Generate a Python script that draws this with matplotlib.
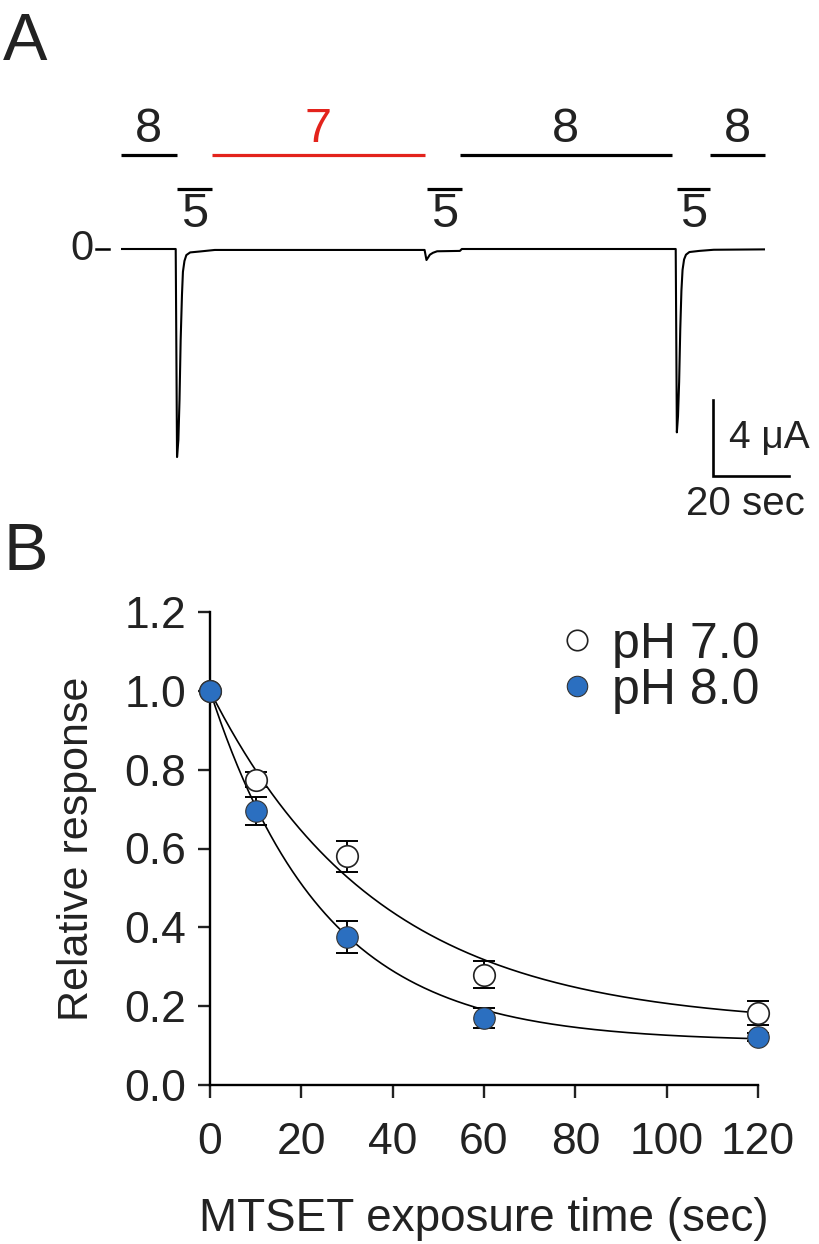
import matplotlib
matplotlib.use("Agg")
import matplotlib.pyplot as plt
import numpy as np

plt.rcParams['font.family'] = ['Liberation Sans', 'DejaVu Sans']

# panel A: current trace (sec, uA)
trace_t = [0, 14.4, 14.75, 15.1, 15.4, 15.7, 16.05, 16.3, 16.7, 17.2, 18.2, 20.8, 24.7,
           79.9, 80.4, 81.3, 82.1, 83.2, 89.2, 89.7,
           146.0, 146.3, 146.6, 146.9, 147.2, 147.5, 147.8, 148.2, 148.7, 149.6, 152.2, 156.0, 169.5]
trace_i = [0, 0, -10.95, -10.05, -7.95, -4.8, -2.4, -1.2, -0.63, -0.32, -0.18, -0.13, -0.05,
           -0.05, -0.58, -0.3, -0.2, -0.12, -0.1, 0.0,
           0.0, -9.65, -8.8, -7.0, -4.2, -2.2, -1.1, -0.55, -0.3, -0.16, -0.1, -0.04, -0.02]

# solution application periods
sol_start = [0, 23.9, 89.2, 155.0]
sol_end = [14.7, 80.0, 145.0, 169.5]
sol_ph = ['8', '7', '8', '8']
sol_color = ['black', '#e3231c', 'black', 'black']

mts_start = [14.7, 80.5, 146.3]
mts_end = [23.9, 89.7, 155.0]
mts_ph = ['5', '5', '5']

# panel B: relative response vs MTSET exposure
exp_time = [0, 10, 30, 60, 120]
ph7_mean = [1.0, 0.775, 0.58, 0.28, 0.183]
ph7_err = [0.0, 0.02, 0.04, 0.035, 0.03]
ph8_mean = [1.0, 0.695, 0.375, 0.17, 0.122]
ph8_err = [0.0, 0.035, 0.04, 0.025, 0.01]

# single exponential fits: plateau, tau (sec)
ph7_fit = (0.15, 37.0)
ph8_fit = (0.11, 25.0)

blue = '#2b6fc0'
ink = '#222222'

fig = plt.figure(figsize=(8.2, 12.44), dpi=100)

# ---------------- panel A ----------------
axA = fig.add_axes([121 / 820, 1 - 515 / 1244, 644 / 820, 418 / 1244])
axA.set_xlim(0, 169.5)
axA.set_ylim(-14, 8)
axA.axis('off')

axA.plot(trace_t, trace_i, color='black', lw=1.5, solid_joinstyle='round')

bar_y = 4.95
for s, e, lab, c in zip(sol_start, sol_end, sol_ph, sol_color):
    axA.plot([s, e], [bar_y, bar_y], color=c, lw=2.3, clip_on=False, solid_capstyle='butt')
    axA.text((s + e) / 2, bar_y + 0.15, lab, color=c if c != 'black' else ink, fontsize=35,
             ha='center', va='bottom')

mts_y = 3.15
for s, e, lab in zip(mts_start, mts_end, mts_ph):
    axA.plot([s, e], [mts_y, mts_y], color='black', lw=2.3, clip_on=False, solid_capstyle='butt')
    axA.text((s + e) / 2, mts_y - 0.15, lab, fontsize=35, ha='center', va='top', color=ink)

# zero level marker
axA.text(-7.3, 0, '0', fontsize=30, ha='right', va='center', color=ink)
axA.plot([-6.6, -3.2], [0, 0], color='black', lw=1.8, clip_on=False)

# scale bar: 4 uA / 20 sec
sb_x, sb_y = 155.8, -11.95
axA.plot([sb_x, sb_x, sb_x + 20], [sb_y + 4, sb_y, sb_y], color='black', lw=1.9,
         clip_on=False, solid_joinstyle='miter')
axA.text(sb_x + 4.3, sb_y + 2.0, '4 μA', fontsize=28, ha='left', va='center', color=ink)
axA.text(sb_x + 8.6, sb_y - 0.45, '20 sec', fontsize=29, ha='center', va='top', color=ink)

fig.text(0.004, 1 - 12 / 1244, 'A', fontsize=48, ha='left', va='top', color=ink)
fig.text(0.004, 1 - 522 / 1244, 'B', fontsize=48, ha='left', va='top', color=ink)

# ---------------- panel B ----------------
axB = fig.add_axes([210 / 820, 1 - 1085 / 1244, (758 - 210) / 820, (1085 - 612) / 1244])
axB.set_xlim(0, 120)
axB.set_ylim(0, 1.2)
for side in ['top', 'right']:
    axB.spines[side].set_visible(False)
for side in ['left', 'bottom']:
    axB.spines[side].set_linewidth(1.7)
axB.set_xticks([0, 20, 40, 60, 80, 100, 120])
axB.set_yticks([0.0, 0.2, 0.4, 0.6, 0.8, 1.0, 1.2])
axB.set_yticklabels(['%.1f' % v for v in axB.get_yticks()])
axB.tick_params(direction='out', length=9, width=1.7, labelsize=32, colors=ink)
axB.tick_params(axis='x', pad=18)
axB.tick_params(axis='y', pad=8)

tt = np.linspace(0, 120, 400)
for (plateau, tau) in [ph7_fit, ph8_fit]:
    axB.plot(tt, plateau + (1 - plateau) * np.exp(-tt / tau), color='black', lw=1.2, zorder=2)

axB.errorbar(exp_time, ph7_mean, yerr=ph7_err, fmt='none', ecolor='black', elinewidth=1.4,
             capsize=8, capthick=1.4, zorder=3, clip_on=False)
axB.errorbar(exp_time, ph8_mean, yerr=ph8_err, fmt='none', ecolor='black', elinewidth=1.4,
             capsize=8, capthick=1.4, zorder=3, clip_on=False)
axB.plot(exp_time, ph7_mean, 'o', ms=15.5, mfc='white', mec=ink, mew=1.2,
         zorder=4, clip_on=False, label='pH 7.0')
axB.plot(exp_time, ph8_mean, 'o', ms=15.5, mfc=blue, mec='#333333', mew=0.8,
         zorder=5, clip_on=False, label='pH 8.0')

axB.set_ylabel('Relative response', fontsize=31, labelpad=20, color=ink)
axB.set_xlabel('MTSET exposure time (sec)', fontsize=33, labelpad=24, color=ink)

leg = axB.legend(loc='upper right', bbox_to_anchor=(1.085, 1.075), frameon=False, fontsize=36,
                 handletextpad=0.2, labelspacing=0.0, markerscale=0.95, handlelength=1.0)
for t in leg.get_texts():
    t.set_color(ink)

fig.savefig('out.png', dpi=100)
